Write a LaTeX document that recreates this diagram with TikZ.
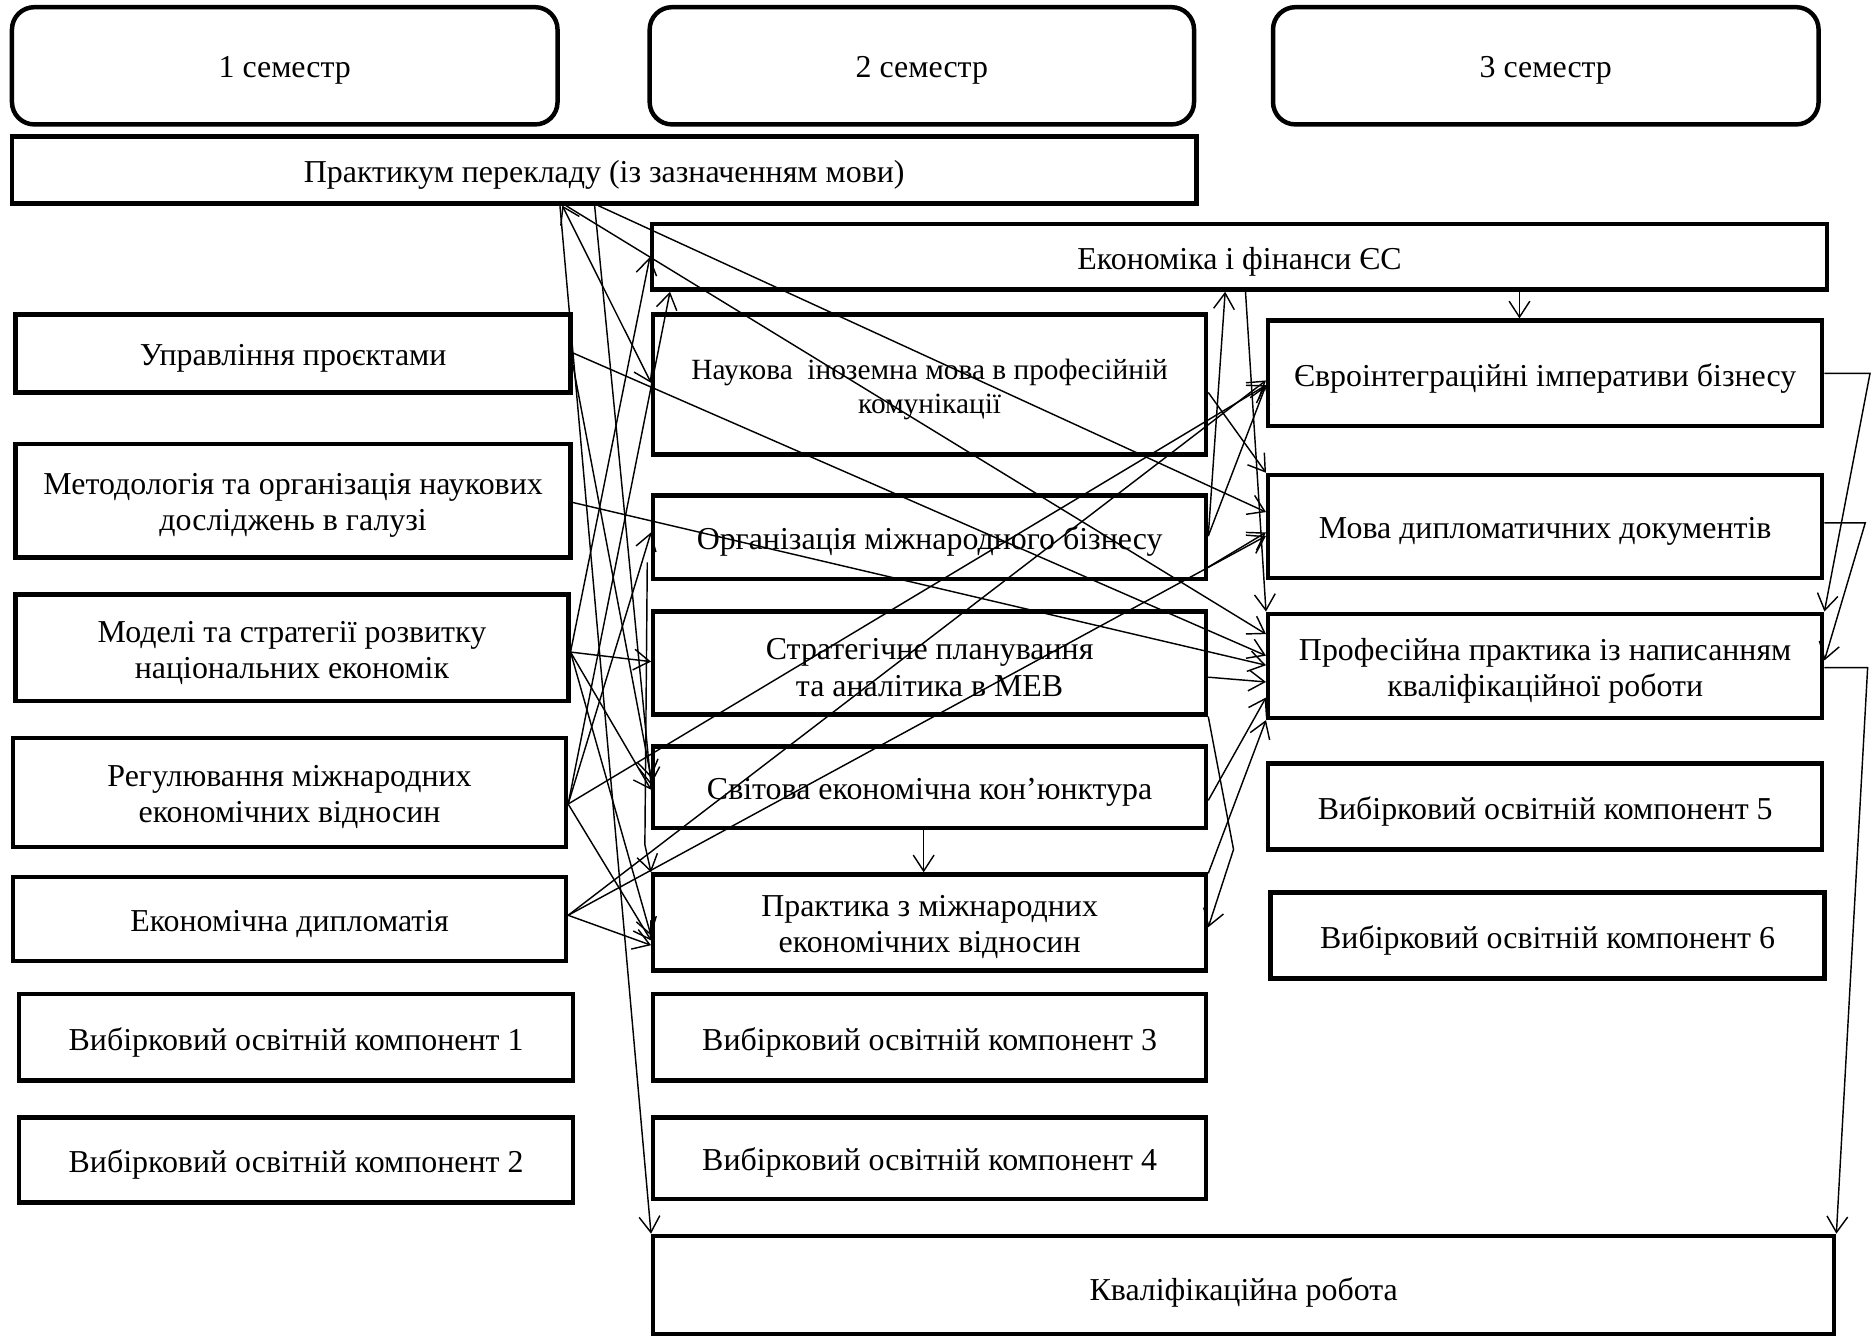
\documentclass[tikz,border=0pt]{standalone}
\usepackage{fontspec}
\setmainfont{Liberation Serif}
\usetikzlibrary{arrows.meta}
\tikzset{
  box/.style={draw, line width=1.4pt, inner sep=0pt},
  sem/.style={box, rounded corners=7pt},
  lbl/.style={inner sep=0pt, align=center, font=\fontsize{10}{11.3}\selectfont, yshift=-1.5pt},
  lblx/.style={},
  smallfont/.style={font=\fontsize{9.2}{10.5}\selectfont},
  con/.style={line width=0.45pt, -{Straight Barb[length=5pt,width=6.5pt]}},
  conboth/.style={line width=0.45pt, {Straight Barb[length=5pt,width=6.5pt]}-{Straight Barb[length=5pt,width=6.5pt]}},
}
\newcommand\mybox[7][]{\node[box,#1,minimum width={(#5-#3)*0.375pt}, minimum height={(#6-#4)*0.375pt}] (#2) at ({(#3+#5)/2},{(#4+#6)/2}) {};
  \node[lbl,lblx] (#2-t) at (#2.center) {#7};}
\begin{document}
\begin{tikzpicture}[x=0.375pt,y=-0.375pt]
\useasboundingbox (0,0) rectangle (1568,1117);
% semesters
\mybox[sem]{S1}{10}{6}{466}{104}{1 семестр}
\mybox[sem]{S2}{543}{6}{998}{104}{2 семестр}
\mybox[sem]{S3}{1064}{6}{1520}{104}{3 семестр}
% wide boxes
\mybox{P}{10}{114}{1000}{170}{Практикум перекладу (із зазначенням мови)}
\mybox{E}{545}{187}{1527}{242}{Економіка і фінанси ЄС}
% column 1
\mybox{U}{13}{263}{477}{328}{Управління проєктами}
\mybox{M}{13}{371}{477}{466}{Методологія та організація наукових\\досліджень в галузі}
\mybox{Md}{13}{497}{475}{586}{Моделі та стратегії розвитку\\національних економік}
\mybox{R}{11}{617}{473}{708}{Регулювання міжнародних\\економічних відносин}
\mybox{ED}{11}{733}{473}{803}{Економічна дипломатія}
\mybox{V1}{16}{831}{479}{903}{Вибірковий освітній компонент 1}
\mybox{V2}{16}{934}{479}{1005}{Вибірковий освітній компонент 2}
% column 2
\tikzset{lblx/.style={smallfont}}
\mybox{N}{546}{263}{1008}{380}{Наукова \ іноземна мова в професійній\\комунікації}
\tikzset{lblx/.style={}}
\mybox{O}{546}{414}{1008}{484}{Організація міжнародного бізнесу}
\mybox{St}{546}{511}{1008}{597}{Стратегічне планування\\та аналітика в МЕВ}
\mybox{Sv}{546}{624}{1008}{692}{Світова економічна кон’юнктура}
\mybox{PM}{546}{731}{1008}{811}{Практика з міжнародних\\економічних відносин}
\mybox{V3}{546}{831}{1008}{903}{Вибірковий освітній компонент 3}
\mybox{V4}{546}{934}{1008}{1002}{Вибірковий освітній компонент 4}
% column 3
\mybox{Y}{1060}{268}{1523}{356}{Євроінтеграційні імперативи бізнесу}
\mybox{MD}{1060}{397}{1523}{483}{Мова дипломатичних документів}
\mybox{Pr}{1060}{513}{1523}{600}{Професійна практика із написанням\\кваліфікаційної роботи}
\mybox{V5}{1060}{638}{1523}{710}{Вибірковий освітній компонент 5}
\mybox{V6}{1062}{746}{1525}{818}{Вибірковий освітній компонент 6}
% final
\tikzset{lblx/.style={yshift=-1pt}}
\mybox{K}{546}{1033}{1533}{1115}{Кваліфікаційна робота}
\tikzset{lblx/.style={}}
% bend points
\coordinate (bY) at (1563,312);
\coordinate (bMD) at (1559,437);
\coordinate (bPr) at (1561,558);
\coordinate (bSt) at (1031,710);
\coordinate (bOa) at (541,470);
\coordinate (bOb) at (539,706);
% connectors from the top box
\draw[conboth] (P.south -| 470,0) -- (N.west |- 0,320);
\draw[con] (P.south -| 468,0) -- (K.north west);
\draw[con] (P.south -| 500,0) -- (MD.west |- 0,428);
\draw[con] (P.south -| 473,0) -- (Pr.west |- 0,530);
\draw[con] (P.south -| 497,0) -- (Sv.west |- 0,656);
% column 1 to others
\draw[con] (Md.east |- 0,545) -- (E.west |- 0,215);
\draw[con] (R.east |- 0,672) -- (E.south -| 560,0);
\draw[con] (U.east |- 0,295) -- (Pr.west |- 0,548);
\draw[con] (U.east |- 0,305) -- (Sv.west |- 0,650);
\draw[con] (M.east |- 0,420) -- (Pr.west |- 0,556);
\draw[con] (Md.east |- 0,545) -- (St.west |- 0,553);
\draw[con] (Md.east |- 0,545) -- (Sv.west |- 0,660);
\draw[con] (Md.east |- 0,545) -- (PM.west |- 0,782);
\draw[con] (R.east |- 0,672) -- (O.west |- 0,445);
\draw[con] (R.east |- 0,672) -- (PM.west |- 0,786);
\draw[con] (R.east |- 0,672) -- (Y.west |- 0,322);
\draw[con] (ED.east |- 0,765) -- (Y.west |- 0,318);
\draw[con] (ED.east |- 0,765) -- (MD.west |- 0,448);
\draw[con] (ED.east |- 0,765) -- (PM.west |- 0,790);
\draw[con] (bOa) -- (bOb) -- (PM.north west);
% column 2 to column 3
\draw[con] (N.east |- 0,328) -- (MD.north west);
\draw[con] (O.east |- 0,448) -- (E.south -| 1024,0);
\draw[con] (O.east |- 0,448) -- (Y.west |- 0,322);
\draw[con] (O.east |- 0,474) -- (MD.west |- 0,445);
\draw[con] (E.south -| 1041,0) -- (Pr.north west);
\draw[con] (E.south -| 1270,0) -- (Y.north -| 1270,0);
\draw[con] (St.east |- 0,566) -- (Pr.west |- 0,570);
\draw[con] (Sv.east |- 0,669) -- (Pr.west |- 0,583);
\draw[con] (PM.east |- 0,730) -- (Pr.south west);
\draw[con] (St.south east) -- (bSt) -- (PM.east |- 0,775);
\draw[con] (Sv.south -| 772,0) -- (PM.north -| 772,0);
% right side bends
\draw[con] (Y.east |- 0,312) -- (bY) -- (Pr.north east);
\draw[con] (MD.east |- 0,437) -- (bMD) -- (Pr.east |- 0,552);
\draw[con] (Pr.east |- 0,558) -- (bPr) -- (K.north east);
\end{tikzpicture}
\end{document}
